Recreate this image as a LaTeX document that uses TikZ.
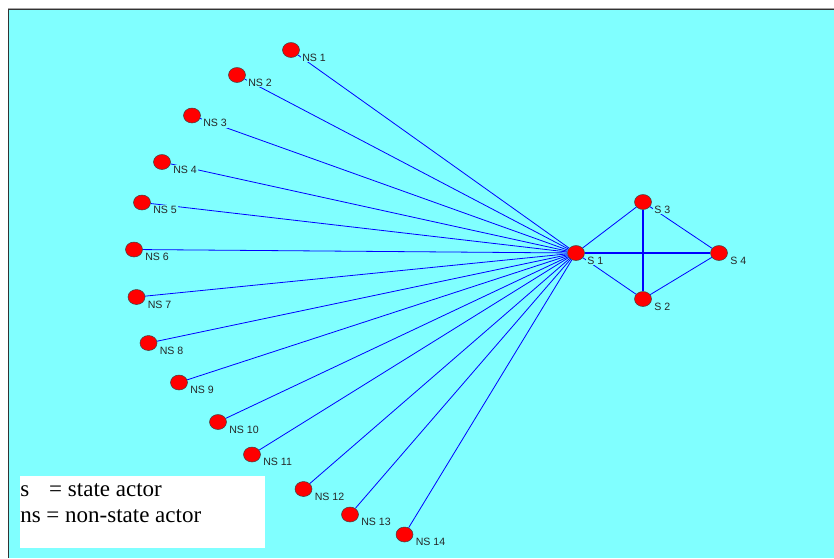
\documentclass[tikz,border=0pt]{standalone}
\usepackage{fontspec}
\setmainfont{Liberation Sans}
\newfontfamily\keyfont{Liberation Serif}
\definecolor{PlotCyan}{RGB}{128,255,255}
\definecolor{ActorRed}{RGB}{255,0,0}
\usetikzlibrary{shapes,backgrounds}

\begin{document}
\begin{tikzpicture}[x=1pt,y=-1pt]
				\tikzstyle{every node}=[draw=black!75, fill=ActorRed, shape=ellipse, minimum width=17pt, minimum height=15pt, inner sep=0pt, line width=0.5pt];
				\tikzstyle{tag}=[draw=none, fill=PlotCyan, shape=rectangle, minimum width=0pt, minimum height=0pt, inner sep=1pt, anchor=base west, text=black!85, font=\fontsize{10.6}{12}\selectfont];
				\tikzstyle{tie}=[blue, line width=0.8pt];
				\tikzstyle{key}=[draw=none, fill=none, shape=rectangle, minimum width=0pt, minimum height=0pt, inner sep=0pt, anchor=base west, font=\keyfont\fontsize{23}{26}\selectfont];
				\useasboundingbox (0,0) rectangle (834,558);
				% non-state actors
				\node (n01) at (291, 50) {};
				\node (n02) at (237, 75) {};
				\node (n03) at (192, 115.5) {};
				\node (n04) at (162, 162) {};
				\node (n05) at (142, 202.5) {};
				\node (n06) at (134, 249.5) {};
				\node (n07) at (136.5, 297) {};
				\node (n08) at (148.5, 343) {};
				\node (n09) at (179, 382.5) {};
				\node (n10) at (218, 422) {};
				\node (n11) at (252, 454.5) {};
				\node (n12) at (303.5, 489) {};
				\node (n13) at (350, 514.5) {};
				\node (n14) at (404.5, 534.5) {};
				\node [tag] (t01) at (301, 61) {NS 1};
				\node [tag] (t02) at (247, 86) {NS 2};
				\node [tag] (t03) at (202, 126.5) {NS 3};
				\node [tag] (t04) at (172, 173) {NS 4};
				\node [tag] (t05) at (152, 213.5) {NS 5};
				\node [tag] (t06) at (144, 260.5) {NS 6};
				\node [tag] (t07) at (146.5, 308) {NS 7};
				\node [tag] (t08) at (158.5, 354) {NS 8};
				\node [tag] (t09) at (189, 393.5) {NS 9};
				\node [tag] (t10) at (228, 433) {NS 10};
				\node [tag] (t11) at (262, 465.5) {NS 11};
				\node [tag] (t12) at (313.5, 500) {NS 12};
				\node [tag] (t13) at (360, 525.5) {NS 13};
				\node [tag] (t14) at (414.5, 545.5) {NS 14};
				% state actors
				\node (s1) at (576, 253) {};
				\node (s2) at (643, 299) {};
				\node (s3) at (643, 202) {};
				\node (s4) at (719, 253) {};
				\node [tag] (u1) at (586, 264) {S 1};
				\node [tag] (u2) at (653, 310) {S 2};
				\node [tag] (u3) at (653, 213) {S 3};
				\node [tag] (u4) at (729, 264) {S 4};
				% legend
				\node [draw=none, fill=white, shape=rectangle, minimum width=245pt, minimum height=72pt, anchor=north west] (legend) at (20, 476) {};
				\node [key] (k1) at (20, 496) {\makebox[29pt][l]{s}= state actor};
				\node [key] (k2) at (20, 522) {ns = non-state actor};
				\begin{pgfonlayer}{background}
					\fill [PlotCyan] (8, 9) rectangle (834, 558);
					\draw [gray!70, line width=1pt] (8, 8) -- (834, 8);
					\draw [black!80, line width=1pt] (8.5, 558) -- (8.5, 9.5) -- (834, 9.5);
					\foreach \i in {01,02,03,04,05,06,07,08,09,10,11,12,13,14}
						\draw [tie] (n\i) -- (s1);
					\draw [tie] (s1) -- (s3);
					\draw [tie] (s1) -- (s2);
					\draw [tie] (s3) -- (s4);
					\draw [tie] (s2) -- (s4);
					\draw [tie, line width=1.2pt] (s3) -- (s2);
					\draw [tie, line width=1.8pt] (s1) -- (s4);
				\end{pgfonlayer}
			\end{tikzpicture}
\end{document}
